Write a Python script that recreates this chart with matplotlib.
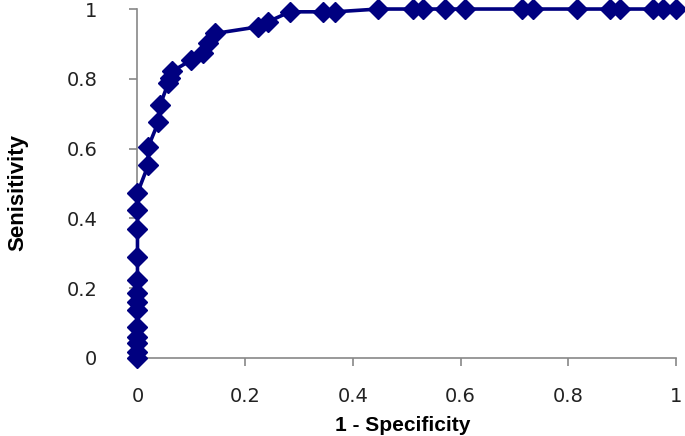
import matplotlib
matplotlib.use('Agg')
import matplotlib.pyplot as plt

# ROC points
fpr = [0, 0, 0, 0, 0, 0, 0, 0, 0, 0, 0, 0, 0,
       0.02, 0.02, 0.039, 0.042, 0.057, 0.060, 0.064, 0.10, 0.122, 0.131, 0.144,
       0.224, 0.243, 0.283, 0.345, 0.367, 0.447, 0.512, 0.531, 0.571, 0.608,
       0.713, 0.735, 0.816, 0.877, 0.896, 0.958, 0.976, 1.0]
tpr = [0, 0.018, 0.042, 0.061, 0.090, 0.137, 0.161, 0.186, 0.223, 0.290, 0.369, 0.424, 0.473,
       0.553, 0.605, 0.677, 0.725, 0.787, 0.801, 0.821, 0.854, 0.873, 0.902, 0.930,
       0.949, 0.964, 0.992, 0.992, 0.992, 1.0, 1.0, 1.0, 1.0, 1.0,
       1.0, 1.0, 1.0, 1.0, 1.0, 1.0, 1.0, 1.0]

ticks = [0, 0.2, 0.4, 0.6, 0.8, 1]
tick_labels = ['0', '0.2', '0.4', '0.6', '0.8', '1']

fig = plt.figure(figsize=(6.85, 4.36), dpi=100)
ax = fig.add_axes([0.2007, 0.1789, 0.7863, 0.8004])

ax.plot(fpr, tpr, color='#000080', lw=2.6, marker='D', ms=10,
        clip_on=False, zorder=3)

ax.set_xlim(0, 1)
ax.set_ylim(0, 1)
ax.set_xticks(ticks)
ax.set_xticklabels(tick_labels)
ax.set_yticks(ticks)
ax.set_yticklabels(tick_labels)

for s in ['top', 'right']:
    ax.spines[s].set_visible(False)
for s in ['left', 'bottom']:
    ax.spines[s].set_color('#888888')
    ax.spines[s].set_linewidth(1.2)

ax.tick_params(axis='both', direction='out', length=6, width=1.2, color='#888888',
               labelsize=14, labelcolor='#222222')
ax.tick_params(axis='x', pad=15)
ax.tick_params(axis='y', pad=23)

ax.set_xlabel('1 - Specificity', fontsize=15, fontweight='bold',
              family='Liberation Sans')
ax.set_ylabel('Senisitivity', fontsize=16, fontweight='bold',
              family='Liberation Sans')
ax.xaxis.set_label_coords(0.493, -0.166)
ax.yaxis.set_label_coords(-0.203, 0.474)

fig.savefig('out.png', dpi=100)
